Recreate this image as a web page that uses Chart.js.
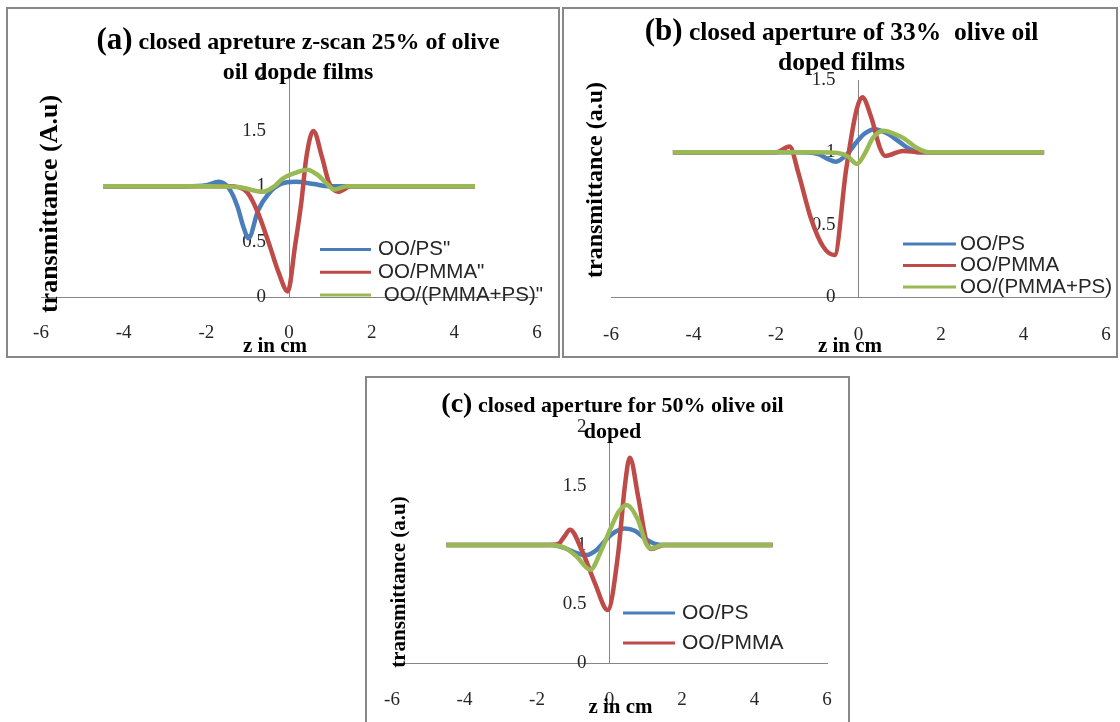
<!DOCTYPE html>
<html>
<head>
<meta charset="utf-8">
<title>closed aperture z-scan</title>
<script src="https://cdn.jsdelivr.net/npm/chart.js@4.4.1/dist/chart.umd.min.js"></script>
<style>
  body { margin: 0; background: #fff; width: 1120px; height: 722px; overflow: hidden; position: relative; }
  .frame { position: absolute; box-sizing: border-box; border: 2px solid #888; }
  canvas { position: absolute; }
</style>
</head>
<body>
<div class="frame" style="left:6px;top:7px;width:554px;height:351px"></div>
<div class="frame" style="left:562px;top:7px;width:556px;height:351px"></div>
<div class="frame" style="left:365px;top:376px;width:485px;height:360px"></div>
<canvas id="chartA" width="550" height="347" style="left:8px;top:9px"></canvas>
<canvas id="chartB" width="552" height="347" style="left:564px;top:9px"></canvas>
<canvas id="chartC" width="479" height="343" style="left:368px;top:379px"></canvas>
<script>
// tick labels
const zTicks = [-6, -4, -2, 0, 2, 4, 6];
const tTicksA = [0, 0.5, 1, 1.5, 2];
const tTicksB = [0, 0.5, 1, 1.5];
const tTicksC = [0, 0.5, 1, 1.5, 2];

// (a) 25% olive oil
const zA_ps   = [-4.5, -2.5, -2, -1.7, -1.45, -1.25, -1.1, -0.98, -0.75, -0.5, -0.2, 0.15, 0.6, 0.95, 1.5, 4.5];
const tA_ps   = [1, 1, 1.01, 1.04, 0.98, 0.82, 0.63, 0.53, 0.78, 0.93, 1.02, 1.04, 1.02, 1.0, 1, 1];
const zA_pmma = [-4.5, -1.5, -1.2, -1.0, -0.75, -0.5, -0.25, -0.03, 0.15, 0.3, 0.42, 0.59, 0.8, 0.97, 1.19, 1.5, 4.5];
const tA_pmma = [1, 1, 0.99, 0.94, 0.76, 0.5, 0.22, 0.05, 0.47, 0.86, 1.26, 1.5, 1.26, 1.03, 0.95, 1.0, 1];
const zA_mix  = [-4.5, -2, -1.2, -0.63, -0.35, -0.15, 0.15, 0.44, 0.7, 0.87, 1.1, 1.4, 4.5];
const tA_mix  = [1, 1, 0.99, 0.95, 1.0, 1.07, 1.12, 1.15, 1.1, 1.04, 0.97, 1.0, 1];

// (b) 33% olive oil
const zB_ps   = [-4.5, -1.5, -1.0, -0.75, -0.55, -0.3, -0.05, 0.15, 0.39, 0.7, 1.0, 1.2, 1.45, 4.5];
const tB_ps   = [1, 1, 0.99, 0.955, 0.935, 0.98, 1.07, 1.13, 1.16, 1.13, 1.07, 1.03, 1.0, 1];
const zB_pmma = [-4.5, -2, -1.67, -1.46, -1.16, -0.86, -0.58, -0.3, -0.05, 0.09, 0.31, 0.52, 0.65, 1.08, 1.5, 4.5];
const tB_pmma = [1, 1, 1.04, 0.86, 0.55, 0.35, 0.29, 0.88, 1.29, 1.38, 1.24, 1.03, 0.975, 1.01, 1.0, 1];
const zB_mix  = [-4.5, -1, -0.5, -0.25, -0.04, 0.15, 0.35, 0.61, 0.85, 1.08, 1.42, 1.7, 4.5];
const tB_mix  = [1, 1, 0.995, 0.97, 0.92, 0.99, 1.10, 1.15, 1.13, 1.10, 1.03, 1.0, 1];

// (c) 50% olive oil
const zC_ps   = [-4.5, -1.6, -1.2, -0.9, -0.63, -0.35, -0.05, 0.15, 0.42, 0.7, 1.0, 1.25, 1.5, 4.5];
const tC_ps   = [1, 1, 0.97, 0.93, 0.915, 0.96, 1.06, 1.11, 1.14, 1.12, 1.05, 1.01, 1.0, 1];
const zC_pmma = [-4.5, -1.75, -1.41, -1.25, -1.09, -0.77, -0.4, -0.05, 0.24, 0.42, 0.56, 0.79, 1.01, 1.15, 1.5, 4.5];
const tC_pmma = [1, 1, 1.01, 1.07, 1.13, 0.96, 0.675, 0.45, 0.93, 1.49, 1.74, 1.41, 1.04, 0.966, 1.0, 1];
const zC_mix  = [-4.5, -1.6, -1.2, -0.9, -0.53, -0.22, 0.05, 0.25, 0.47, 0.79, 1.01, 1.15, 1.45, 4.5];
const tC_mix  = [1, 1, 0.97, 0.9, 0.79, 0.96, 1.155, 1.28, 1.34, 1.21, 1.01, 0.97, 1.0, 1];

const BLUE = '#4a7ebb', RED = '#be4b48', GREEN = '#98b954';
const SERIF = '"Liberation Serif", "Times New Roman", serif';
const SANS = '"Liberation Sans", Arial, sans-serif';

function pts(z, t) {
  return z.map((v, i) => ({ x: v, y: t[i] }));
}

function series(label, z, t, color, order) {
  return {
    label: label,
    data: pts(z, t),
    borderColor: color,
    backgroundColor: color,
    borderWidth: 4.5,
    pointRadius: 0,
    showLine: true,
    cubicInterpolationMode: 'monotone',
    order: order
  };
}

// titles, axis titles and legend, drawn on the canvas
function panelText(cfg) {
  return {
    id: 'panelText',
    beforeDraw(chart) {
      // y axis sits at z = 0: push its labels left of the line,
      // and drop the z labels well below the axis (Excel style)
      const shift = (scale, dx, dy) => {
        scale.getLabelItems(chart.chartArea).forEach(it => {
          if (!it.shifted) {
            it.options.translation[0] += dx;
            it.options.translation[1] += dy;
            it.shifted = true;
          }
        });
      };
      shift(chart.scales.y, -cfg.yPad, 0);
      shift(chart.scales.x, 0, cfg.xPad);
    },
    afterDraw(chart) {
      const ctx = chart.ctx;
      ctx.save();
      ctx.fillStyle = '#000';
      ctx.textBaseline = 'alphabetic';

      const big = 'bold ' + cfg.tagSize + 'px ' + SERIF;
      const small = 'bold ' + cfg.titleSize + 'px ' + SERIF;
      ctx.font = big;
      const wTag = ctx.measureText(cfg.tag).width;
      ctx.font = small;
      const w1 = ctx.measureText(' ' + cfg.lines[0]).width;
      const x0 = cfg.cx - (wTag + w1) / 2;
      ctx.textAlign = 'left';
      ctx.font = big;
      ctx.fillText(cfg.tag, x0, cfg.ly[0]);
      ctx.font = small;
      ctx.fillText(' ' + cfg.lines[0], x0 + wTag, cfg.ly[0]);
      ctx.textAlign = 'center';
      ctx.fillText(cfg.lines[1], cfg.cx, cfg.ly[1]);

      ctx.font = cfg.xFont;
      ctx.fillText('z in cm', cfg.xTitle[0], cfg.xTitle[1]);

      ctx.save();
      ctx.translate(cfg.yTitle[0], cfg.yTitle[1]);
      ctx.rotate(-Math.PI / 2);
      ctx.font = cfg.yFont;
      ctx.textBaseline = 'middle';
      ctx.fillText(cfg.yText, 0, 0);
      ctx.restore();

      // legend
      ctx.font = cfg.legFont;
      ctx.textAlign = 'left';
      ctx.textBaseline = 'middle';
      cfg.legItems.forEach((di, k) => {
        const ds = chart.data.datasets[di];
        const y = cfg.legY + k * cfg.legGap;
        ctx.strokeStyle = ds.borderColor;
        ctx.lineWidth = 3;
        ctx.beginPath();
        ctx.moveTo(cfg.legX[0], y);
        ctx.lineTo(cfg.legX[1], y);
        ctx.stroke();
        ctx.fillStyle = '#262626';
        ctx.fillText(ds.label, cfg.legX[2], y);
      });
      ctx.restore();
    }
  };
}

function makeChart(id, datasets, yTicks, yMax, pad, xAxisH, text) {
  const tickFont = { family: SERIF, size: 19 };
  return new Chart(document.getElementById(id), {
    type: 'scatter',
    data: { datasets: datasets },
    options: {
      responsive: false,
      animation: false,
      layout: { padding: pad },
      plugins: {
        legend: { display: false },
        tooltip: { enabled: false }
      },
      scales: {
        x: {
          type: 'linear',
          min: -6,
          max: 6,
          afterBuildTicks: s => { s.ticks = zTicks.map(v => ({ value: v })); },
          afterFit: s => { s.height = xAxisH; },
          ticks: { font: tickFont, color: '#262626', padding: 0, maxRotation: 0, callback: v => String(v) },
          grid: { display: false, drawTicks: false },
          border: { display: true, color: '#868686', width: 1 }
        },
        y: {
          type: 'linear',
          position: { x: 0 },
          min: 0,
          max: yMax,
          afterBuildTicks: s => { s.ticks = yTicks.map(v => ({ value: v })); },
          afterFit: s => { s.width = 0; },
          ticks: { font: tickFont, color: '#262626', padding: 0, callback: v => String(v) },
          grid: { display: false, drawTicks: false },
          border: { display: true, color: '#868686', width: 1 }
        }
      }
    },
    plugins: [panelText(text)]
  });
}

makeChart('chartA', [
  series('OO/PS"', zA_ps, tA_ps, BLUE, 3),
  series('OO/PMMA"', zA_pmma, tA_pmma, RED, 2),
  series(' OO/(PMMA+PS)"', zA_mix, tA_mix, GREEN, 1)
], tTicksA, 2, { left: 33, right: 21, top: 66.5, bottom: 0 }, 59, {
  yPad: 23, xPad: 25,
  tag: '(a)', tagSize: 31, titleSize: 24,
  lines: ['closed apreture z-scan 25% of olive', 'oil dopde films'],
  cx: 290, ly: [39.6, 69.7],
  xFont: 'bold 21px ' + SERIF, xTitle: [267, 343],
  yFont: 'bold 26px ' + SERIF, yText: 'transmittance (A.u)', yTitle: [42, 195],
  legFont: '20.5px ' + SANS, legItems: [0, 1, 2], legX: [312, 363, 370], legY: 240.5, legGap: 22.8
});

makeChart('chartB', [
  series('OO/PS', zB_ps, tB_ps, BLUE, 3),
  series('OO/PMMA', zB_pmma, tB_pmma, RED, 2),
  series('OO/(PMMA+PS)', zB_mix, tB_mix, GREEN, 1)
], tTicksB, 1.5, { left: 47, right: 10, top: 71, bottom: 0 }, 59, {
  yPad: 23, xPad: 27,
  tag: '(b)', tagSize: 31, titleSize: 25.5,
  lines: ['closed aperture of 33%  olive oil', 'doped films'],
  cx: 277.5, ly: [31, 61.3],
  xFont: 'bold 21px ' + SERIF, xTitle: [286, 343],
  yFont: 'bold 24px ' + SERIF, yText: 'transmittance (a.u)', yTitle: [32, 171],
  legFont: '20.5px ' + SANS, legItems: [0, 1, 2], legX: [339, 392, 396], legY: 235, legGap: 21.5
});

makeChart('chartC', [
  series('OO/PS', zC_ps, tC_ps, BLUE, 3),
  series('OO/PMMA', zC_pmma, tC_pmma, RED, 2),
  series('OO/(PMMA+PS)', zC_mix, tC_mix, GREEN, 1)
], tTicksC, 2, { left: 24, right: 20, top: 48, bottom: 0 }, 59, {
  yPad: 23, xPad: 26,
  tag: '(c)', tagSize: 28, titleSize: 22,
  lines: ['closed aperture for 50% olive oil', 'doped'],
  cx: 244.5, ly: [33, 59],
  xFont: 'bold 21px ' + SERIF, xTitle: [252.5, 334],
  yFont: 'bold 21px ' + SERIF, yText: 'transmittance (a.u)', yTitle: [32, 203],
  legFont: '21px ' + SANS, legItems: [0, 1], legX: [255, 307, 314], legY: 234, legGap: 30
});
</script>
</body>
</html>
